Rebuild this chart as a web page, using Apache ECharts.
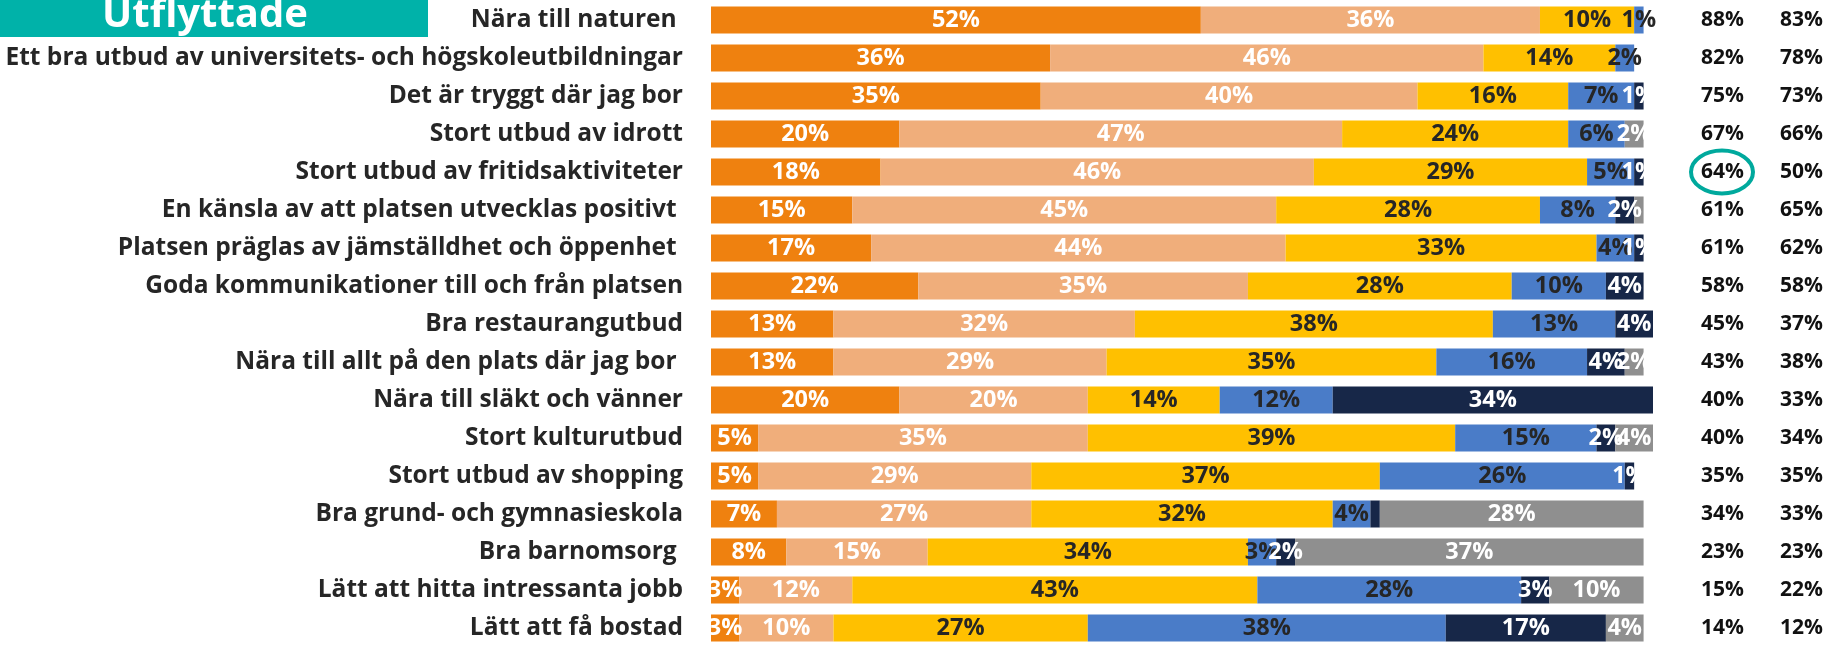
<!DOCTYPE html>
<html>
<head>
<meta charset="utf-8">
<script src="https://cdn.jsdelivr.net/npm/echarts@6/dist/echarts.min.js"></script>
<style>
html, body { margin: 0; padding: 0; background: #fff; }
#chart { width: 1827px; height: 647px; }
</style>
</head>
<body>
<div id="chart"></div>
<script>
var categories = [
    'Nära till naturen ',
    'Ett bra utbud av universitets- och högskoleutbildningar',
    'Det är tryggt där jag bor',
    'Stort utbud av idrott',
    'Stort utbud av fritidsaktiviteter',
    'En känsla av att platsen utvecklas positivt ',
    'Platsen präglas av jämställdhet och öppenhet ',
    'Goda kommunikationer till och från platsen',
    'Bra restaurangutbud',
    'Nära till allt på den plats där jag bor ',
    'Nära till släkt och vänner',
    'Stort kulturutbud',
    'Stort utbud av shopping',
    'Bra grund- och gymnasieskola',
    'Bra barnomsorg ',
    'Lätt att hitta intressanta jobb',
    'Lätt att få bostad'
];

// andelar i procent per svarsalternativ
var mycketViktigt = [52, 36, 35, 20, 18, 15, 17, 22, 13, 13, 20, 5, 5, 7, 8, 3, 3];
var ganskaViktigt = [36, 46, 40, 47, 46, 45, 44, 35, 32, 29, 20, 35, 29, 27, 15, 12, 10];
var varkenEller   = [10, 14, 16, 24, 29, 28, 33, 28, 38, 35, 14, 39, 37, 32, 34, 43, 27];
var inteSarskilt  = [1, 2, 7, 6, 5, 8, 4, 10, 13, 16, 12, 15, 26, 4, 3, 28, 38];
var inteAlls      = [0, 0, 1, 0, 1, 2, 1, 4, 4, 4, 34, 2, 1, 1, 2, 3, 17];
var vetEj         = [0, 0, 0, 2, 0, 1, 0, 0, 0, 2, 0, 4, 0, 28, 37, 10, 4];

// segment utan etikett i originalet: [rad, serie]
var hiddenLabels = [[5, 5], [13, 4]];

// kolumnerna till höger
var utflyttade = ['88%', '82%', '75%', '67%', '64%', '61%', '61%', '58%', '45%', '43%', '40%', '40%', '35%', '34%', '23%', '15%', '14%'];
var ovriga     = ['83%', '78%', '73%', '66%', '50%', '65%', '62%', '58%', '37%', '38%', '33%', '34%', '35%', '33%', '23%', '22%', '12%'];

var seriesNames = ['Mycket viktigt', 'Ganska viktigt', 'Varken eller', 'Inte särskilt viktigt', 'Inte alls viktigt', 'Vet ej'];
var seriesData = [mycketViktigt, ganskaViktigt, varkenEller, inteSarskilt, inteAlls, vetEj];
var colors = ['#EF810F', '#F0AE7B', '#FFC000', '#4A7CC8', '#172748', '#8F8F8F'];
var labelColors = ['#fff', '#fff', '#262626', '#262626', '#fff', '#fff'];

var FONT = '"Open Sans"';

var mychart = echarts.init(document.getElementById('chart'));

function isHidden(row, s) {
    for (var i = 0; i < hiddenLabels.length; i++) {
        if (hiddenLabels[i][0] == row && hiddenLabels[i][1] == s) return true;
    }
    return false;
}

var series = [];
for (var s = 0; s < seriesData.length; s++) {
    (function (s) {
        series.push({
            name: seriesNames[s],
            type: 'bar',
            stack: 'total',
            barWidth: 27,
            data: seriesData[s],
            itemStyle: { color: colors[s] },
            label: {
                show: true,
                position: 'inside',
                color: labelColors[s],
                fontFamily: FONT,
                fontWeight: 'bold',
                fontSize: 23.5,
                formatter: function (p) {
                    if (!p.value || isHidden(p.dataIndex, s)) return '';
                    return p.value + '%';
                }
            }
        });
    })(s);
}

var option = {
    animation: false,
    grid: { left: 711, width: 942, top: 1, height: 654.5 },
    xAxis: { type: 'value', min: 0, max: 100, show: false },
    yAxis: [{
        type: 'category',
        data: categories,
        inverse: true,
        axisLine: { show: false },
        axisTick: { show: false },
        axisLabel: {
            margin: 28,
            color: '#262626',
            fontFamily: FONT,
            fontWeight: 'bold',
            fontSize: 24.5
        }
    }, {
        type: 'category',
        data: utflyttade,
        inverse: true,
        position: 'right',
        axisLine: { show: false },
        axisTick: { show: false },
        axisLabel: {
            margin: 48,
            align: 'left',
            color: '#111',
            fontFamily: FONT,
            fontWeight: 'bold',
            fontSize: 21
        }
    }, {
        type: 'category',
        data: ovriga,
        inverse: true,
        position: 'right',
        axisLine: { show: false },
        axisTick: { show: false },
        axisLabel: {
            margin: 127,
            align: 'left',
            color: '#111',
            fontFamily: FONT,
            fontWeight: 'bold',
            fontSize: 21
        }
    }],
    series: series
};
mychart.setOption(option);

// ring runt 64% och rubrikrutan
var cy = mychart.convertToPixel({ yAxisIndex: 0 }, categories[4]);
mychart.setOption({
    graphic: [{
        type: 'rect',
        left: 0, top: 0,
        shape: { width: 428, height: 37 },
        style: { fill: '#00B2A9' }
    }, {
        type: 'text',
        x: 205, y: 36,
        style: {
            text: 'Utflyttade',
            fill: '#fff',
            font: 'bold 40px "Open Sans"',
            align: 'center',
            verticalAlign: 'bottom'
        }
    }, {
        type: 'ellipse',
        shape: { cx: 1722, cy: cy, rx: 31, ry: 21.5 },
        style: { fill: 'none', stroke: '#00A99D', lineWidth: 4 }
    }]
});
</script>
</body>
</html>
